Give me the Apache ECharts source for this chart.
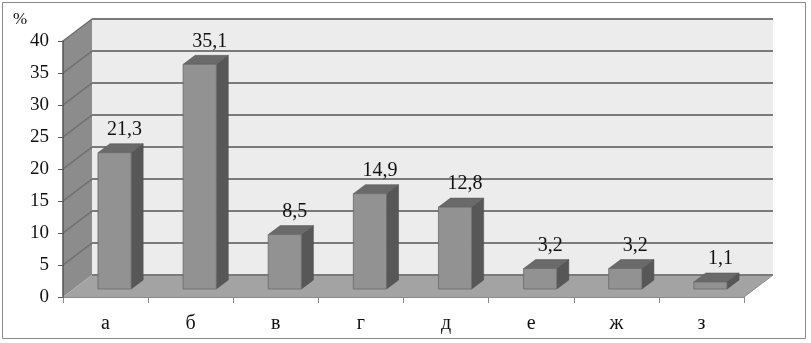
<!DOCTYPE html>
<html>
<head>
<meta charset="utf-8">
<script src="https://cdn.jsdelivr.net/npm/echarts@6/dist/echarts.min.js"></script>
<style>
  html, body { margin: 0; padding: 0; background: #fff; }
  #chart { width: 811px; height: 343px; }
</style>
</head>
<body>
<div id="chart"></div>
<script>
// данные диаграммы
var categories = ['а', 'б', 'в', 'г', 'д', 'е', 'ж', 'з'];
var values = [21.3, 35.1, 8.5, 14.9, 12.8, 3.2, 3.2, 1.1];
var yTicks = [0, 5, 10, 15, 20, 25, 30, 35, 40];

// "глубина" псевдо-3D
var DX = 29, DY = -22;
var BAR_OX = 9, BAR_OY = -8;   // сдвиг столбика внутрь
var BAR_DX = 12, BAR_DY = -9;  // толщина столбика

var myChart = echarts.init(document.getElementById('chart'));

function renderWalls(params, api) {
  var cs = params.coordSys;
  var x0 = cs.x, x1 = cs.x + cs.width;
  var yTop = cs.y, yBot = cs.y + cs.height;
  var children = [];
  // задняя стенка
  children.push({
    type: 'polygon',
    shape: { points: [[x0 + DX, yTop + DY], [x1 + DX, yTop + DY], [x1 + DX, yBot + DY], [x0 + DX, yBot + DY]] },
    style: { fill: '#ececec' }
  });
  // левая стенка
  children.push({
    type: 'polygon',
    shape: { points: [[x0, yTop], [x0 + DX, yTop + DY], [x0 + DX, yBot + DY], [x0, yBot]] },
    style: { fill: '#8c8c8c' }
  });
  // пол
  children.push({
    type: 'polygon',
    shape: { points: [[x0, yBot], [x1, yBot], [x1 + DX, yBot + DY], [x0 + DX, yBot + DY]] },
    style: { fill: '#a3a3a3' }
  });
  // линии сетки
  yTicks.forEach(function (v) {
    var y = api.coord([0, v])[1];
    children.push({
      type: 'line',
      shape: { x1: x0 + DX, y1: y + DY, x2: x1 + DX, y2: y + DY },
      style: { stroke: '#7a7a7a', lineWidth: 2 }
    });
    if (v > 0) {
      children.push({
        type: 'line',
        shape: { x1: x0, y1: y, x2: x0 + DX, y2: y + DY },
        style: { stroke: '#6e6e6e', lineWidth: 1.5 }
      });
    }
  });
  children.push({
    type: 'line',
    shape: { x1: x1, y1: yBot, x2: x1 + DX, y2: yBot + DY },
    style: { stroke: '#8a8a8a', lineWidth: 1 }
  });
  return { type: 'group', children: children };
}

function renderBar(params, api) {
  var idx = api.value(0);
  var val = api.value(1);
  var top = api.coord([idx, val]);
  var base = api.coord([idx, 0]);
  var band = api.size([1, 0])[0];
  var w = band * 0.39;
  var xl = top[0] - w / 2 + BAR_OX;
  var xr = xl + w;
  var yt = top[1] + BAR_OY;
  var yb = base[1] + BAR_OY;
  return {
    type: 'group',
    children: [
      {
        type: 'polygon',
        shape: { points: [[xr, yt], [xr + BAR_DX, yt + BAR_DY], [xr + BAR_DX, yb + BAR_DY], [xr, yb]] },
        style: { fill: '#575757', stroke: '#4a4a4a', lineWidth: 0.5 }
      },
      {
        type: 'polygon',
        shape: { points: [[xl, yt], [xr, yt], [xr + BAR_DX, yt + BAR_DY], [xl + BAR_DX, yt + BAR_DY]] },
        style: { fill: '#6a6a6a', stroke: '#555', lineWidth: 0.5 }
      },
      {
        type: 'rect',
        shape: { x: xl, y: yt, width: w, height: yb - yt },
        style: { fill: '#929292', stroke: '#6a6a6a', lineWidth: 0.8 }
      },
      {
        type: 'text',
        x: top[0] + BAR_OX + 10,
        y: yt - 23,
        style: {
          text: String(val).replace('.', ','),
          fill: '#111',
          font: '20px "Liberation Serif"',
          align: 'center',
          verticalAlign: 'middle'
        }
      }
    ]
  };
}

var option = {
  animation: false,
  grid: { left: 63, right: 67, top: 41, bottom: 46 },
  graphic: [
    {
      type: 'rect',
      shape: { x: 2.5, y: 2.5, width: 803, height: 336 },
      style: { fill: 'none', stroke: '#8a8a8a', lineWidth: 1 },
      z: 100
    },
    {
      type: 'text',
      left: 13,
      top: 11,
      style: { text: '%', fill: '#111', font: '17px "Liberation Serif"' }
    }
  ],
  xAxis: {
    type: 'category',
    data: categories,
    axisLine: { show: true, lineStyle: { color: '#8a8a8a', width: 1 } },
    axisTick: { show: true, length: 6, lineStyle: { color: '#8a8a8a' } },
    axisLabel: { margin: 17, color: '#111', fontFamily: 'Liberation Serif', fontSize: 20 },
    splitLine: { show: false },
    z: 1
  },
  yAxis: {
    type: 'value',
    min: 0,
    max: 40,
    interval: 5,
    axisLine: { show: true, lineStyle: { color: '#555', width: 1.5 } },
    axisTick: { show: true, length: 5, lineStyle: { color: '#555' } },
    axisLabel: { margin: 14, color: '#111', fontFamily: 'Liberation Serif', fontSize: 19 },
    splitLine: { show: false },
    z: 3
  },
  series: [
    {
      type: 'custom',
      name: 'walls',
      renderItem: renderWalls,
      data: [[0, 0]],
      silent: true,
      z: 0
    },
    {
      type: 'custom',
      name: 'bars',
      renderItem: renderBar,
      data: values.map(function (v, i) { return [i, v]; }),
      encode: { x: 0, y: 1 },
      z: 5
    }
  ]
};

myChart.setOption(option);
</script>
</body>
</html>
